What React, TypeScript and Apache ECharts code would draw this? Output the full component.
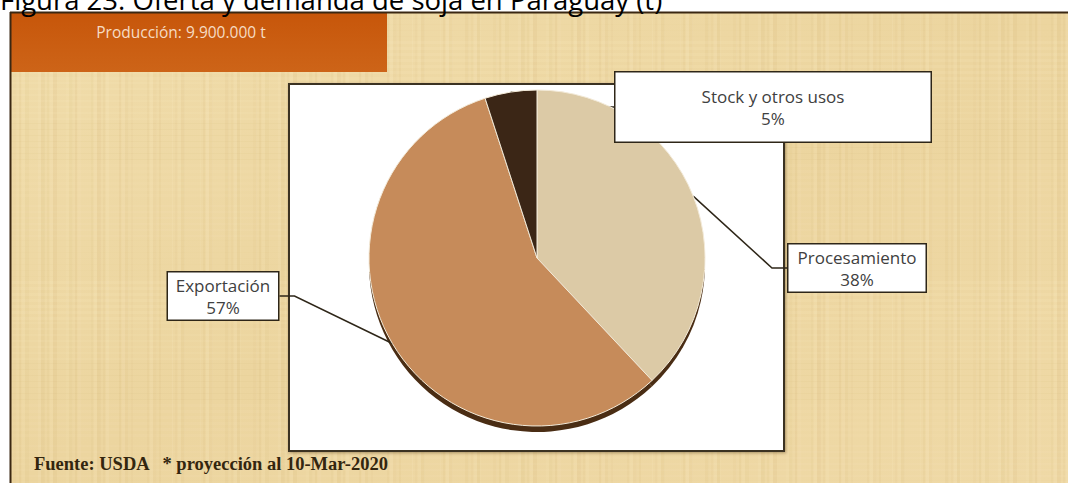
import React, { useEffect, useRef } from "react";
import * as echarts from "echarts";

const categories = ["Procesamiento", "Exportación", "Stock y otros usos"];
const shares = [38, 57, 5];
const sliceColors = ["#dccaa6", "#c68b5a", "#3b2616"];
const titleText = "Figura 23: Oferta y demanda de soja en Paraguay (t)";
const productionText = "Producción: 9.900.000 t";
const sourceText = "Fuente: USDA   * proyección al 10-Mar-2020";

// callout box placement per slice: centre x, centre y, width, height
const labelBoxes = [
  { x: 857, y: 268, w: 137, h: 47 },
  { x: 223, y: 296, w: 110, h: 47 },
  { x: 773, y: 107, w: 315, h: 69 },
];

const LABEL_FONT = "'Open Sans', 'Noto Sans', sans-serif";

function makeTexture(): HTMLCanvasElement {
  const c = document.createElement("canvas");
  c.width = 240;
  c.height = 240;
  const ctx = c.getContext("2d")!;
  // deterministic parchment streaks (decoration only)
  for (let i = 0; i < 48; i++) {
    const x = (i * 53) % 240;
    const w = 1 + ((i * 7) % 4);
    const a = 0.05 + ((i * 13) % 7) / 100;
    ctx.fillStyle = i % 2 === 0 ? `rgba(255,246,215,${a})` : `rgba(200,165,100,${a})`;
    ctx.fillRect(x, 0, w, 240);
  }
  for (let i = 0; i < 40; i++) {
    const y = (i * 41) % 240;
    const h = 1 + ((i * 5) % 3);
    const a = 0.04 + ((i * 11) % 6) / 100;
    ctx.fillStyle = i % 3 === 0 ? `rgba(205,170,105,${a})` : `rgba(255,245,210,${a})`;
    ctx.fillRect(0, y, 240, h);
  }
  return c;
}

export default function App() {
  const ref = useRef<HTMLDivElement>(null);
  useEffect(() => {
    if (!ref.current) return;
    const chart = echarts.init(ref.current, undefined, { renderer: "svg" });
    const lineH = 22;
    const data = categories.map((name, i) => {
      const b = labelBoxes[i];
      const padV = Math.max(0, (b.h - lineH * 2) / 2);
      return {
        name,
        value: shares[i],
        itemStyle: { color: sliceColors[i] },
        label: { width: b.w, padding: [padV, 0, padV, 0] },
      };
    });
    const texture = makeTexture();
    chart.setOption({
      animation: false,
      backgroundColor: "#ffffff",
      graphic: [
        {
          type: "rect",
          z: -6,
          shape: { x: 10, y: 12, width: 1058, height: 471 },
          style: {
            fill: {
              type: "linear",
              x: 0, y: 0, x2: 1, y2: 1,
              colorStops: [
                { offset: 0, color: "#f0dcaa" },
                { offset: 0.5, color: "#ecd59f" },
                { offset: 1, color: "#efd9a6" },
              ],
            },
          },
        },
        {
          type: "rect",
          z: -5,
          shape: { x: 10, y: 12, width: 1058, height: 471 },
          style: { fill: { image: texture, repeat: "repeat" } as any },
        },
        {
          type: "rect",
          z: -4,
          shape: { x: 10, y: 12, width: 377, height: 60 },
          style: {
            fill: {
              type: "linear",
              x: 0, y: 0, x2: 0, y2: 1,
              colorStops: [
                { offset: 0, color: "#c7560a" },
                { offset: 1, color: "#cd6418" },
              ],
            },
          },
        },
        {
          type: "line",
          z: -3,
          shape: { x1: 10, y1: 12.5, x2: 1068, y2: 12.5 },
          style: { stroke: "#3a2712", lineWidth: 2 },
        },
        {
          type: "line",
          z: -3,
          shape: { x1: 10.5, y1: 12, x2: 10.5, y2: 483 },
          style: { stroke: "#3a2712", lineWidth: 2 },
        },
        {
          type: "rect",
          z: -3,
          shape: { x: 289, y: 84, width: 495, height: 367 },
          style: { fill: "#ffffff", stroke: "#3a3020", lineWidth: 2, shadowBlur: 3, shadowColor: "rgba(60,40,10,0.4)", shadowOffsetX: 1, shadowOffsetY: 1 },
        },
        {
          type: "text",
          z: 10,
          x: 0,
          y: -1,
          style: {
            text: titleText,
            font: "27.5px 'Open Sans', sans-serif",
            fill: "#000000",
            verticalAlign: "middle",
            align: "left",
          },
        },
        {
          type: "text",
          z: 10,
          x: 181,
          y: 32,
          style: {
            text: productionText,
            font: "15.5px 'Open Sans', sans-serif",
            fill: "#f6dcc4",
            verticalAlign: "middle",
            align: "center",
          },
        },
        {
          type: "text",
          z: 10,
          x: 34,
          y: 464,
          style: {
            text: sourceText,
            font: "bold 18.5px 'Liberation Serif', serif",
            fill: "#33260f",
            verticalAlign: "middle",
            align: "left",
          },
        },
      ],
      series: [
        {
          type: "pie",
          name: "rim",
          silent: true,
          z: 1,
          center: [537, 264],
          radius: 168,
          startAngle: 90,
          clockwise: true,
          label: { show: false },
          labelLine: { show: false },
          itemStyle: { color: "#4a2d14" },
          data: categories.map((name, i) => ({ name, value: shares[i] })),
        },
        {
          type: "pie",
          name: "Destino",
          silent: true,
          z: 2,
          center: [537, 258],
          radius: 168,
          startAngle: 90,
          clockwise: true,
          avoidLabelOverlap: false,
          percentPrecision: 0,
          itemStyle: { borderColor: "#f3ead8", borderWidth: 1 },
          label: {
            show: true,
            position: "outside",
            formatter: "{b}\n{d}%",
            fontFamily: LABEL_FONT,
            fontSize: 17,
            color: "#404040",
            lineHeight: lineH,
            align: "center",
            backgroundColor: "#ffffff",
            borderColor: "#2e2618",
            borderWidth: 1.5,
          },
          labelLine: {
            show: true,
            length: 15,
            length2: 15,
            lineStyle: { color: "#2e2618", width: 1.5 },
          },
          labelLayout: (params: any) => {
            const b = labelBoxes[params.dataIndex];
            return { x: b.x, y: b.y, align: "center", verticalAlign: "middle" };
          },
          data,
        },
      ],
    });
    return () => chart.dispose();
  }, []);
  return (
    <div
      ref={ref}
      style={{ position: "absolute", left: 0, top: 0, width: 1068, height: 483 }}
    />
  );
}
